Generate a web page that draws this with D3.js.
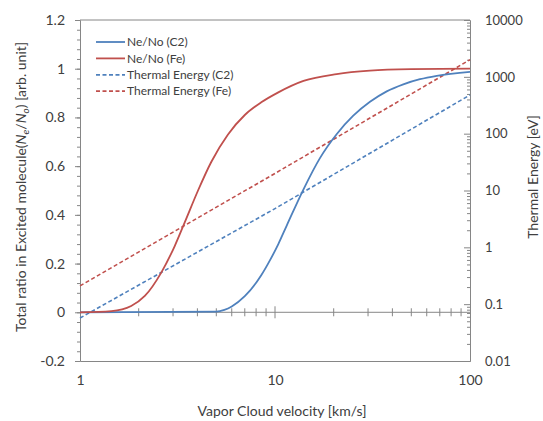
<!DOCTYPE html>
<html>
<head>
<meta charset="utf-8">
<script src="https://cdn.jsdelivr.net/npm/d3@7"></script>
<style>
  body { margin: 0; background: #fff; }
  text { font-family: Lato, "Open Sans", sans-serif; fill: #404040; }
</style>
</head>
<body>
<div id="chart"></div>
<script>
// velocities [km/s] and ratios
const vC2 = [1, 5, 5.5, 6, 7, 8.5, 9.4, 10.4, 11.5, 14, 17, 20.7, 25.2, 30.7, 37.4, 45.5, 55.4, 67.5, 100];
const ratioC2 = [0, 0.003, 0.01, 0.024, 0.066, 0.152, 0.212, 0.28, 0.357, 0.505, 0.633, 0.731, 0.807, 0.864, 0.907, 0.936, 0.957, 0.971, 0.987];
const vFe = [1, 1.45, 1.83, 2.15, 2.61, 3.06, 3.44, 4.03, 4.71, 5.74, 7, 8.5, 10.4, 14, 20.7, 30.7, 50, 100];
const ratioFe = [0, 0.005, 0.026, 0.067, 0.163, 0.272, 0.368, 0.5, 0.617, 0.73, 0.81, 0.862, 0.903, 0.95, 0.978, 0.992, 0.998, 1.0];
// thermal energy [eV]
const vEnergy = [1, 10, 100];
const energyC2 = [0.057, 4.8, 480];
const energyFe = [0.21, 20, 2000];

const leftTicks = [-0.2, 0, 0.2, 0.4, 0.6, 0.8, 1, 1.2];
const rightTicks = [0.01, 0.1, 1, 10, 100, 1000, 10000];
const xTicks = [1, 10, 100];

const seriesNames = ["Ne/No (C2)", "Ne/No (Fe)", "Thermal Energy (C2)", "Thermal Energy (Fe)"];
const blue = "#4f81bd", red = "#c0504d", axisGrey = "#868686";

const margin = { top: 20, right: 73, bottom: 60, left: 80 },
  width = 543 - margin.left - margin.right,
  height = 421 - margin.top - margin.bottom;

const svg = d3.select("#chart").append("svg")
  .attr("width", 543).attr("height", 421)
  .append("g")
  .attr("transform", `translate(${margin.left}, ${margin.top})`);

const x = d3.scaleLog().domain([1, 100]).range([0, width]);
const yL = d3.scaleLinear().domain([-0.2, 1.2]).range([height, 0]);
const yR = d3.scaleLog().domain([0.01, 10000]).range([height, 0]);

// left axis - minor ticks every 0.04
const minorL = d3.range(-0.2, 1.2001, 0.04);
svg.append("g")
  .call(d3.axisLeft(yL).tickValues(minorL).tickSize(3).tickFormat(""))
  .call(g => g.select(".domain").remove())
  .selectAll("line").attr("stroke", axisGrey);
svg.append("g")
  .style("font-size", "14px")
  .call(d3.axisLeft(yL).tickValues(leftTicks).tickSize(5).tickPadding(10)
    .tickFormat(d => String(+d.toFixed(1))))
  .call(g => g.select(".domain").attr("stroke", axisGrey))
  .call(g => g.selectAll("line").attr("stroke", axisGrey));

// right axis (log)
const minorR = [];
rightTicks.slice(0, -1).forEach(p => { for (let k = 2; k <= 9; k++) minorR.push(p * k); });
svg.append("g")
  .attr("transform", `translate(${width}, 0)`)
  .call(d3.axisRight(yR).tickValues(minorR).tickSize(-3).tickFormat(""))
  .call(g => g.select(".domain").remove())
  .selectAll("line").attr("stroke", axisGrey);
svg.append("g")
  .attr("transform", `translate(${width}, 0)`)
  .style("font-size", "13px")
  .call(d3.axisRight(yR).tickValues(rightTicks).tickSize(-6).tickPadding(15)
    .tickFormat(d => String(d)))
  .call(g => g.select(".domain").attr("stroke", axisGrey))
  .call(g => g.selectAll("line").attr("stroke", axisGrey));

// bottom frame + x labels
svg.append("g")
  .attr("transform", `translate(0, ${height})`)
  .style("font-size", "14px")
  .call(d3.axisBottom(x).tickValues(xTicks).tickSize(0).tickPadding(14).tickFormat(d => String(d)))
  .call(g => g.select(".domain").attr("stroke", axisGrey));
// top frame
svg.append("line").attr("x1", 0).attr("x2", width).attr("y1", 0).attr("y2", 0)
  .attr("stroke", axisGrey);

// zero line with crossing ticks
const minorX = [];
[1, 10].forEach(p => { for (let k = 2; k <= 9; k++) minorX.push(p * k); });
minorX.push(10);
const zero = svg.append("g").attr("transform", `translate(0, ${yL(0)})`);
zero.append("line").attr("x1", 0).attr("x2", width).attr("stroke", axisGrey);
zero.selectAll("line.t").data(minorX).join("line").attr("class", "t")
  .attr("x1", d => x(d)).attr("x2", d => x(d))
  .attr("y1", d => d === 10 ? -6 : -4).attr("y2", d => d === 10 ? 6 : 4)
  .attr("stroke", axisGrey);

// curves
const ratioLine = d3.line().x(d => x(d[0])).y(d => yL(d[1])).curve(d3.curveMonotoneX);
const energyLine = d3.line().x(d => x(d[0])).y(d => yR(d[1]));

svg.append("path").datum(vEnergy.map((v, i) => [v, energyC2[i]]))
  .attr("d", energyLine).attr("fill", "none").attr("stroke", blue)
  .attr("stroke-width", 1.6).attr("stroke-dasharray", "4,2.5");
svg.append("path").datum(vEnergy.map((v, i) => [v, energyFe[i]]))
  .attr("d", energyLine).attr("fill", "none").attr("stroke", red)
  .attr("stroke-width", 1.6).attr("stroke-dasharray", "4,2.5");
svg.append("path").datum(vC2.map((v, i) => [v, ratioC2[i]]))
  .attr("d", ratioLine).attr("fill", "none").attr("stroke", blue).attr("stroke-width", 1.8);
svg.append("path").datum(vFe.map((v, i) => [v, ratioFe[i]]))
  .attr("d", ratioLine).attr("fill", "none").attr("stroke", red).attr("stroke-width", 1.8);

// legend
const legend = svg.append("g").attr("transform", "translate(16, 22)");
const legColors = [blue, red, blue, red];
const legDash = [null, null, "4,2.5", "4,2.5"];
seriesNames.forEach((name, i) => {
  const row = legend.append("g").attr("transform", `translate(0, ${i * 16.4})`);
  row.append("line").attr("x1", 0).attr("x2", 29)
    .attr("stroke", legColors[i]).attr("stroke-width", 1.8)
    .attr("stroke-dasharray", legDash[i]);
  row.append("text").attr("x", 31).attr("dy", "0.35em")
    .style("font-size", "12px").text(name);
});

// axis titles
const lt = svg.append("text")
  .attr("transform", `translate(${26 - margin.left}, ${187 - margin.top}) rotate(-90)`)
  .attr("text-anchor", "middle").style("font-size", "14px");
lt.append("tspan").text("Total ratio in Excited molecule(");
lt.append("tspan").style("font-style", "italic").text("N");
lt.append("tspan").attr("dy", 3).style("font-size", "10px").style("font-style", "italic").text("e");
lt.append("tspan").attr("dy", -3).text("/");
lt.append("tspan").style("font-style", "italic").text("N");
lt.append("tspan").attr("dy", 3).style("font-size", "10px").style("font-style", "italic").text("o");
lt.append("tspan").attr("dy", -3).text(")  [arb. unit]");

svg.append("text")
  .attr("transform", `translate(${538 - margin.left}, ${177 - margin.top}) rotate(-90)`)
  .attr("text-anchor", "middle").style("font-size", "14px")
  .text("Thermal Energy [eV]");

svg.append("text")
  .attr("x", 282 - margin.left).attr("y", 416 - margin.top)
  .attr("text-anchor", "middle").style("font-size", "14px")
  .text("Vapor Cloud velocity [km/s]");
</script>
</body>
</html>
